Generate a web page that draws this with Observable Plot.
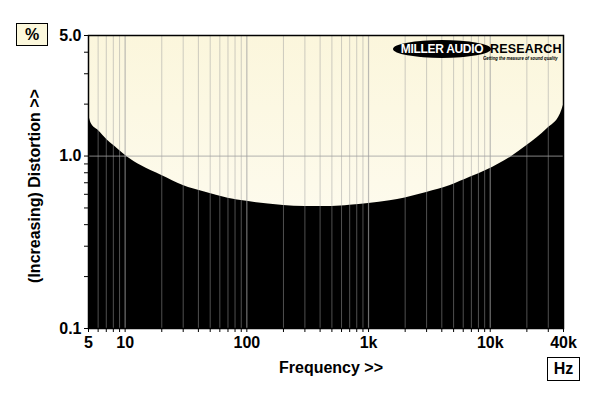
<!DOCTYPE html>
<html>
<head>
<meta charset="utf-8">
<script src="https://cdn.jsdelivr.net/npm/d3@7"></script>
<script src="https://cdn.jsdelivr.net/npm/@observablehq/plot@0.6"></script>
<style>
  html, body { margin: 0; padding: 0; background: #ffffff; }
  #wrap { position: relative; width: 600px; height: 398px; overflow: hidden; font-family: "Liberation Sans", Arial, sans-serif; font-weight: bold; color: #000; }
  .box { position: absolute; border: 1.5px solid #000; box-sizing: border-box; display: flex; align-items: center; justify-content: center; font-size: 16px; }
  #ylab { position: absolute; left: 35px; top: 186px; transform: translate(-50%, -50%) rotate(-90deg); white-space: nowrap; font-size: 16px; }
  #xlab { position: absolute; left: 331px; top: 368px; transform: translate(-50%, -50%); white-space: nowrap; font-size: 16px; }
  #logo { position: absolute; left: 393px; top: 39px; width: 172px; height: 26px; }
  #ell { position: absolute; left: 0; top: 1px; width: 98px; height: 18px; background: #000; border-radius: 50%; color: #fff; font-size: 12px; display: flex; align-items: center; justify-content: center; letter-spacing: -0.3px; }
  #res { position: absolute; left: 97px; top: 1px; height: 18px; font-size: 12.5px; line-height: 18px; letter-spacing: 0.2px; }
  #tag { position: absolute; left: 90px; top: 17px; font-size: 4.6px; font-style: italic; white-space: nowrap; transform: scaleX(0.92); transform-origin: left top; }
</style>
</head>
<body>
<div id="wrap"></div>
<script>
// Measured curve: frequency (Hz) and distortion (%)
const freq = [5, 5.25, 6, 7.2, 8.7, 10.5, 13.5, 20, 30, 45, 70, 100, 150, 200, 300, 500, 700, 1000, 1500, 2000, 3000, 4700, 6900, 9400, 14700, 20000, 29400, 37800, 40000];
const distortion = [1.76, 1.55, 1.41, 1.23, 1.10, 0.985, 0.882, 0.772, 0.675, 0.618, 0.57, 0.546, 0.527, 0.517, 0.51, 0.51, 0.518, 0.53, 0.55, 0.572, 0.615, 0.675, 0.755, 0.83, 0.985, 1.15, 1.44, 1.76, 1.97];

// Axis ticks and grid
const xGrid = [6, 7, 8, 9, 20, 30, 40, 50, 60, 70, 80, 90, 200, 300, 400, 500, 600, 700, 800, 900, 2000, 3000, 4000, 5000, 6000, 7000, 8000, 9000, 20000, 30000];
const xDecades = [10, 100, 1000, 10000];
const xTicks = [5, 6, 7, 8, 9, 10, 20, 30, 40, 50, 60, 70, 80, 90, 100, 200, 300, 400, 500, 600, 700, 800, 900, 1000, 2000, 3000, 4000, 5000, 6000, 7000, 8000, 9000, 10000, 20000, 30000, 40000];
const xLabelValues = [5, 10, 100, 1000, 10000, 40000];
const xLabelText = ["5", "10", "100", "1k", "10k", "40k"];
const yTicks = [0.1, 0.2, 0.3, 0.4, 0.5, 0.6, 0.7, 0.8, 0.9, 1, 2, 3, 4, 5];
const yLabelValues = [0.1, 1, 5];
const yLabelText = ["0.1", "1.0", "5.0"];
const yGrid = [1];

const data = freq.map((f, i) => ({f, d: distortion[i]}));
const near = (a, b) => Math.abs(a - b) <= 1e-6 * Math.abs(b);
const yFmt = v => { const i = yLabelValues.findIndex(u => near(+v, u)); return i >= 0 ? yLabelText[i] : ""; };

const svg = Plot.plot({
  width: 600,
  height: 398,
  marginLeft: 88,
  marginRight: 37,
  marginTop: 35,
  marginBottom: 70,
  style: {fontFamily: "'Liberation Sans', Arial, sans-serif", fontWeight: "bold", fontSize: "16px", background: "transparent", color: "#000"},
  x: {type: "log", domain: [5, 40000]},
  y: {type: "log", domain: [0.1, 5]},
  marks: [
    Plot.frame({fill: "url(#bgGrad)", stroke: null}),
    Plot.areaY(data, {x: "f", y1: 0.1, y2: "d", fill: "#000", curve: "monotone-x"}),
    Plot.ruleX(xGrid, {stroke: "#a0a0a0", strokeOpacity: 0.5, strokeWidth: 1}),
    Plot.ruleX(xDecades, {stroke: "#a0a0a0", strokeOpacity: 0.7, strokeWidth: 1.2}),
    Plot.ruleY(yGrid, {stroke: "#a0a0a0", strokeOpacity: 0.65, strokeWidth: 1.2}),
    Plot.frame({stroke: "#000", strokeWidth: 1.5}),
    Plot.axisX({ticks: xTicks, tickFormat: () => "", tickSize: 4, label: null}),
    Plot.text(xLabelValues, {x: d => d, text: (d, i) => xLabelText[i], frameAnchor: "bottom", lineAnchor: "top", dy: 8, fontSize: 16, fontWeight: "bold", fill: "#000"}),
    Plot.axisY({ticks: yTicks, tickFormat: yFmt, tickSize: 4, tickPadding: 3, label: null, fontSize: 16})
  ]
});

d3.select(svg).insert("defs", ":first-child").html(
  '<linearGradient id="bgGrad" x1="0" y1="0" x2="0" y2="1">' +
  '<stop offset="0" stop-color="#fbf6dc"/><stop offset="1" stop-color="#fffef8"/></linearGradient>'
);

const wrap = document.getElementById("wrap");
wrap.appendChild(svg);
svg.style.position = "absolute";
svg.style.left = "0";
svg.style.top = "0";

wrap.insertAdjacentHTML("beforeend",
  '<div class="box" style="left:16px;top:23px;width:32px;height:23px;background:#fcf8dc;">%</div>' +
  '<div class="box" style="left:547px;top:357px;width:33px;height:24px;background:#fff;">Hz</div>' +
  '<div id="ylab">(Increasing) Distortion &gt;&gt;</div>' +
  '<div id="xlab">Frequency &gt;&gt;</div>' +
  '<div id="logo"><div id="ell">MILLER AUDIO</div><div id="res">RESEARCH</div><div id="tag">Getting the measure of sound quality</div></div>'
);
</script>
</body>
</html>
